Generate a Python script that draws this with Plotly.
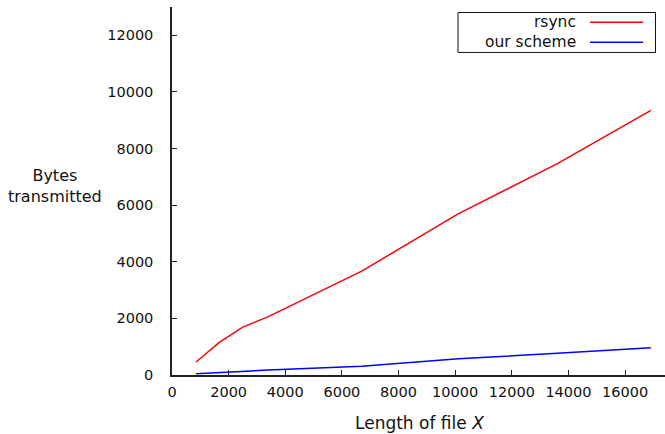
import plotly.graph_objects as go

file_length = [850, 1670, 2500, 3400, 6700, 10120, 13610, 16910]
rsync_bytes = [460, 1150, 1690, 2060, 3670, 5700, 7465, 9350]
our_bytes = [45, 85, 130, 175, 310, 575, 765, 965]
series_names = ["rsync", "our scheme"]
series_colors = ["#ff0000", "#0000ff"]
x_ticks = [0, 2000, 4000, 6000, 8000, 10000, 12000, 14000, 16000]
y_ticks = [0, 2000, 4000, 6000, 8000, 10000, 12000]

FONT = "DejaVu Sans, sans-serif"
TXT = "#111111"

fig = go.Figure()
for name, ys, col in zip(series_names, [rsync_bytes, our_bytes], series_colors):
    fig.add_trace(go.Scatter(x=file_length, y=ys, mode="lines", name=name,
                             line=dict(color=col, width=1.5), showlegend=False))

W, H = 665, 434
ml, mt, mb, mr = 172, 7, 58.5, 0

fig.update_layout(
    width=W, height=H,
    margin=dict(l=ml, r=mr, t=mt, b=mb, autoexpand=False),
    paper_bgcolor="white", plot_bgcolor="white",
    font=dict(family=FONT, size=13, color=TXT),
    xaxis=dict(range=[0, 17410], tickvals=x_ticks, ticktext=[str(v) for v in x_ticks],
               ticks="inside", ticklen=5, automargin=False, tickangle=0,
               tickcolor="#222", showline=True, linecolor="#222", linewidth=1.5,
               showgrid=False, zeroline=False, ticklabelstandoff=3,
               tickfont=dict(family=FONT, size=14.5, color=TXT)),
    yaxis=dict(range=[0, 13000], tickvals=y_ticks, ticktext=[str(v) for v in y_ticks],
               ticks="inside", ticklen=5, automargin=False,
               tickcolor="#222", showline=True, linecolor="#222", linewidth=1.5,
               showgrid=False, zeroline=False, ticklabelstandoff=14,
               tickfont=dict(family=FONT, size=14.5, color=TXT)),
)

pw = W - ml - mr
ph = H - mt - mb
def px(xp):
    return (xp - ml) / pw
def py(yp):
    return (H - mb - yp) / ph

fig.add_annotation(text="Bytes<br>transmitted", xref="paper", yref="paper",
                   x=px(55), y=py(186), xanchor="center", yanchor="middle",
                   showarrow=False, align="center",
                   font=dict(family=FONT, size=16, color=TXT))
fig.add_annotation(text="Length of file <i>X</i>", xref="paper", yref="paper",
                   x=px(419), y=py(424), xanchor="center", yanchor="middle",
                   showarrow=False,
                   font=dict(family=FONT, size=17, color=TXT))

# legend box (top right)
fig.add_shape(type="rect", xref="paper", yref="paper",
              x0=px(458), x1=px(655.5), y0=py(52.5), y1=py(12.5),
              line=dict(color="#111", width=1), fillcolor="white", layer="above")
for i, (name, col) in enumerate(zip(series_names, series_colors)):
    yc = 22.3 + i * 20
    fig.add_annotation(text=name, xref="paper", yref="paper", x=px(578), y=py(yc),
                       xanchor="right", yanchor="middle", showarrow=False,
                       font=dict(family=FONT, size=15.5, color=TXT))
    fig.add_shape(type="line", xref="paper", yref="paper",
                  x0=px(590), x1=px(643), y0=py(yc), y1=py(yc),
                  line=dict(color=col, width=1.5), layer="above")

fig.write_html("out.html", config={"displayModeBar": False},
               post_script="document.body.style.margin='0';document.body.style.padding='0';")
